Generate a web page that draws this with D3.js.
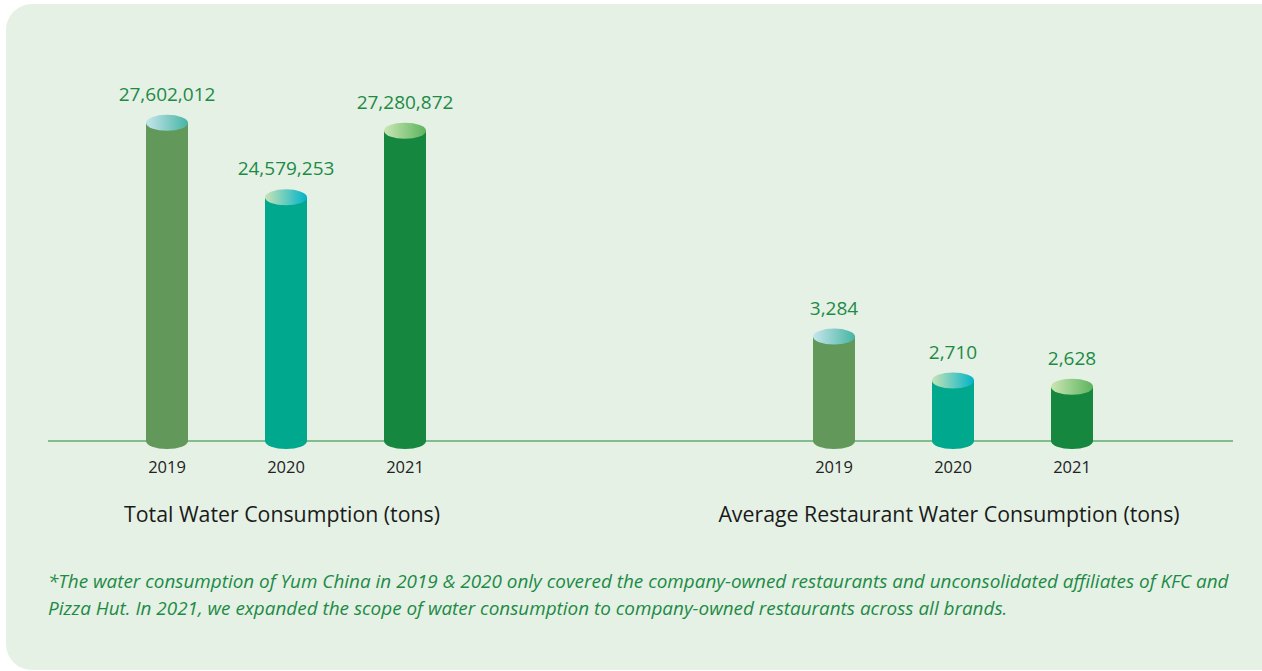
<!DOCTYPE html>
<html>
<head>
<meta charset="utf-8">
<script src="https://cdn.jsdelivr.net/npm/d3@7"></script>
<style>
  body { margin: 0; background: #fff; }
  text { font-family: "Open Sans", sans-serif; }
</style>
</head>
<body>
<div id="chart"></div>
<script>
// data
const years = ["2019", "2020", "2021"];
const totalWater = [27602012, 24579253, 27280872];
const avgWater = [3284, 2710, 2628];
const barColors = ["#62985a", "#00a98d", "#15873f"];
const capColors = [["#c6e6ec", "#46b5a3"], ["#c9e3b6", "#00b3c9"], ["#cbe6b4", "#5cb45e"]];
const titles = ["Total Water Consumption (tons)", "Average Restaurant Water Consumption (tons)"];
const footnote = [
  "*The water consumption of Yum China in 2019 & 2020 only covered the company-owned restaurants and unconsolidated affiliates of KFC and",
  "Pizza Hut. In 2021, we expanded the scope of water consumption to company-owned restaurants across all brands."
];

const width = 1262, height = 671;
const baseY = 441;
const barW = 42, ry = 8;

const svg = d3.select("#chart").append("svg")
  .attr("width", width)
  .attr("height", height);

// panel
svg.append("rect")
  .attr("x", 6).attr("y", 4)
  .attr("width", 1290).attr("height", 666)
  .attr("rx", 26)
  .attr("fill", "#e5f1e5");

// gradients for the cylinder tops
const defs = svg.append("defs");
capColors.forEach((c, i) => {
  const g = defs.append("linearGradient").attr("id", "cap" + i)
    .attr("x1", "0%").attr("x2", "100%").attr("y1", "0%").attr("y2", "0%");
  g.append("stop").attr("offset", "0%").attr("stop-color", c[0]);
  g.append("stop").attr("offset", "100%").attr("stop-color", c[1]);
});

// scales
const xLeft = d3.scalePoint().domain(years).range([167, 405]);
const xRight = d3.scalePoint().domain(years).range([834, 1072]);
const yLeft = d3.scaleLinear().domain([14.7e6, 28e6]).range([baseY, baseY - 328]);
const yRight = d3.scaleLinear().domain([1920, 3500]).range([baseY, baseY - 121]);

// baseline
svg.append("line")
  .attr("x1", 48).attr("x2", 1233)
  .attr("y1", baseY).attr("y2", baseY)
  .attr("stroke", "#5fab72").attr("stroke-width", 1.5);

function drawGroup(values, x, y, fmt, title, titleX) {
  const g = svg.append("g");
  const bars = g.selectAll("g.bar")
    .data(values.map((v, i) => ({year: years[i], value: v, i: i})))
    .join("g").attr("class", "bar");

  // bottom ellipse
  bars.append("ellipse")
    .attr("cx", d => x(d.year)).attr("cy", baseY)
    .attr("rx", barW / 2).attr("ry", ry)
    .attr("fill", d => barColors[d.i]);

  // body
  bars.append("rect")
    .attr("x", d => x(d.year) - barW / 2)
    .attr("y", d => y(d.value))
    .attr("width", barW)
    .attr("height", d => baseY - y(d.value))
    .attr("fill", d => barColors[d.i]);

  // top
  bars.append("ellipse")
    .attr("cx", d => x(d.year)).attr("cy", d => y(d.value))
    .attr("rx", barW / 2).attr("ry", ry)
    .attr("fill", d => `url(#cap${d.i})`);

  // value labels
  bars.append("text")
    .attr("x", d => x(d.year))
    .attr("y", d => y(d.value) - 22)
    .attr("text-anchor", "middle")
    .attr("font-size", 19)
    .attr("fill", "#1d8a45")
    .text(d => fmt(d.value));

  // year labels
  bars.append("text")
    .attr("x", d => x(d.year))
    .attr("y", 473)
    .attr("text-anchor", "middle")
    .attr("font-size", 16.5)
    .attr("fill", "#222")
    .text(d => d.year);

  g.append("text")
    .attr("x", titleX).attr("y", 522)
    .attr("text-anchor", "middle")
    .attr("font-size", 21.3)
    .attr("fill", "#1a1a1a")
    .text(title);
}

drawGroup(totalWater, xLeft, yLeft, d3.format(","), titles[0], 282);
drawGroup(avgWater, xRight, yRight, d3.format(","), titles[1], 949);

// footnote
svg.selectAll("text.note")
  .data(footnote)
  .join("text")
  .attr("class", "note")
  .attr("x", 48)
  .attr("y", (d, i) => 588 + i * 27)
  .attr("font-size", 18.9)
  .attr("font-style", "italic")
  .attr("fill", "#1d8a45")
  .text(d => d);
</script>
</body>
</html>
